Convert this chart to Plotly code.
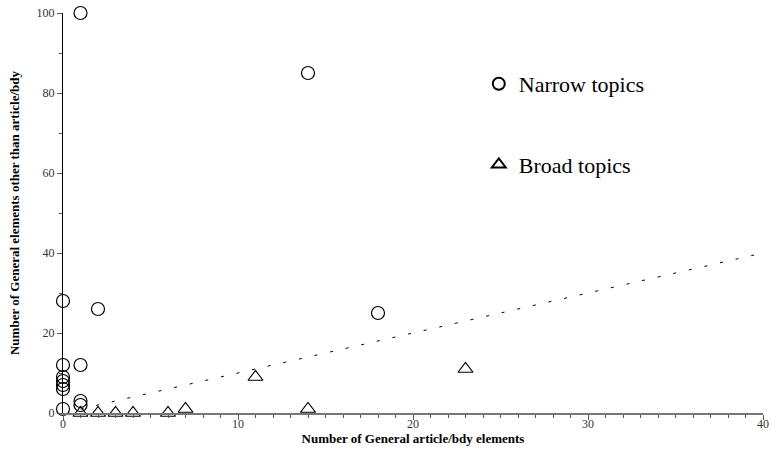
import plotly.graph_objects as go

# Narrow topics (circles)
narrow_x = [1, 14, 0, 2, 18, 0, 1, 0, 0, 0, 0, 1, 1, 0]
narrow_y = [100, 85, 28, 26, 25, 12, 12, 9, 8, 7, 6, 3, 2, 1]

# Broad topics (triangles)
broad_x = [1, 2, 3, 4, 6, 7, 11, 14, 23]
broad_y = [0, 0, 0, 0, 0, 1, 9, 1, 11]

# Reference line y = x
ref_x = [1, 40]
ref_y = [1, 40]

x_ticks = [0, 10, 20, 30, 40]
y_ticks = [0, 20, 40, 60, 80, 100]

FONT = "Liberation Serif, Times New Roman, serif"

fig = go.Figure()

fig.add_trace(go.Scatter(
    x=ref_x, y=ref_y, mode="lines", showlegend=False,
    line=dict(color="black", width=1, dash="3px,13px"),
    hoverinfo="skip",
))

fig.add_trace(go.Scatter(
    x=narrow_x, y=narrow_y, mode="markers", name="Narrow topics",
    legendgroup="a",
    marker=dict(symbol="circle-open", size=13, color="black", line=dict(width=1.2)),
    cliponaxis=False,
))

fig.add_trace(go.Scatter(
    x=broad_x, y=broad_y, mode="markers", name="Broad topics",
    legendgroup="b",
    marker=dict(symbol="triangle-up-open", size=13, color="black", line=dict(width=1.2)),
    cliponaxis=False,
))

fig.update_layout(
    width=771, height=458,
    margin=dict(l=63, r=8, t=13, b=45, autoexpand=False),
    paper_bgcolor="white", plot_bgcolor="white",
    font=dict(family=FONT, color="black", size=12),
    showlegend=True,
    legend=dict(
        x=0.594, y=0.875, xanchor="left", yanchor="top",
        font=dict(family=FONT, size=22, color="black"),
        bgcolor="rgba(0,0,0,0)",
        tracegroupgap=49,
        itemsizing="constant",
    ),
    xaxis=dict(
        range=[0, 40], tickvals=x_ticks, ticktext=[str(v) for v in x_ticks],
        automargin=False,
        showgrid=False, zeroline=False,
        showline=True, linecolor="#777777", linewidth=2,
        ticks="outside", ticklen=5, tickcolor="#555555", tickwidth=1,
        ticklabelstandoff=-6, ticklabeloverflow="allow",
        minor=dict(dtick=1, ticks="outside", ticklen=3, tickcolor="#555555", showgrid=False),
        tickfont=dict(family=FONT, size=12, color="#333333"),
        title=dict(text="<b>Number of General article/bdy elements</b>",
                   font=dict(family=FONT, size=13, color="black"), standoff=0),
    ),
    yaxis=dict(
        range=[0, 100], tickvals=y_ticks, ticktext=[str(v) for v in y_ticks],
        automargin=False,
        showgrid=False, zeroline=False,
        showline=True, linecolor="black", linewidth=1,
        ticks="outside", ticklen=5, tickcolor="#555555", tickwidth=1,
        ticklabeloverflow="allow",
        minor=dict(dtick=10, ticks="outside", ticklen=3, tickcolor="#555555", showgrid=False),
        tickfont=dict(family=FONT, size=12, color="#333333"),
        title=dict(text="<b>Number of General elements other than article/bdy</b>",
                   font=dict(family=FONT, size=13, color="black"), standoff=14),
    ),
)

fig.write_html("out.html", config={"displayModeBar": False},
               post_script="document.body.style.margin='0';")
